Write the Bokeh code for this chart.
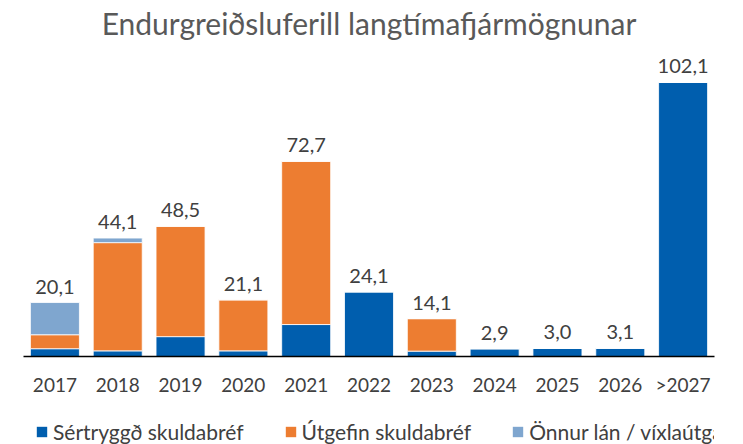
from bokeh.plotting import figure
from bokeh.layouts import column
from bokeh.models import ColumnDataSource, LabelSet, Legend, LegendItem, Range1d, FactorRange
from bokeh.core.properties import value
from bokeh.embed import file_html
from bokeh.resources import INLINE

years = ["2017", "2018", "2019", "2020", "2021", "2022", "2023", "2024", "2025", "2026", ">2027"]
sertryggd = [2.9, 2.1, 7.4, 2.1, 11.9, 24.1, 2.0, 2.9, 3.0, 3.1, 102.1]
utgefin = [5.2, 40.3, 41.1, 19.0, 60.8, 0.0, 12.1, 0.0, 0.0, 0.0, 0.0]
onnur = [12.0, 1.7, 0.0, 0.0, 0.0, 0.0, 0.0, 0.0, 0.0, 0.0, 0.0]
totals = [20.1, 44.1, 48.5, 21.1, 72.7, 24.1, 14.1, 2.9, 3.0, 3.1, 102.1]
series = ["Sértryggð skuldabréf", "Útgefin skuldabréf", "Önnur lán / víxlaútgáfa"]
colors = ["#005EAE", "#ED7D31", "#7FA6CF"]

FONT = "Lato"
src = ColumnDataSource(dict(
    years=years, s0=sertryggd, s1=utgefin, s2=onnur, total=totals,
    lab=[f"{t:.1f}".replace(".", ",") for t in totals],
))

p = figure(x_range=FactorRange(*years, range_padding=0.0), y_range=Range1d(0, 117.3),
           width=727, height=400, output_backend="svg", toolbar_location=None,
           min_border_left=23, min_border_right=13, min_border_top=41, min_border_bottom=44,
           title="Endurgreiðsluferill langtímafjármögnunar")
p.title.text_font = FONT
p.title.text_font_size = "30px"
p.title.text_font_style = "normal"
p.title.text_color = "#595959"
p.title.align = "center"
p.title.standoff = 2
p.title.offset = 0

p.outline_line_color = None
renderers = p.vbar_stack(["s0", "s1", "s2"], x="years", width=0.78, source=src,
                         color=colors, line_color="white", line_width=0.8)

labels = LabelSet(x="years", y="total", text="lab", source=src, y_offset=9,
                  text_align="center", text_baseline="bottom",
                  text_font=value(FONT), text_font_size="20px", text_color="#404040")
p.add_layout(labels)

p.yaxis.visible = False
p.xgrid.grid_line_color = None
p.ygrid.grid_line_color = None
p.xaxis.axis_line_color = "#000000"
p.xaxis.axis_line_width = 1.5
p.xaxis.major_tick_line_color = None
p.xaxis.minor_tick_line_color = None
p.xaxis.major_label_text_font = FONT
p.xaxis.major_label_text_font_size = "19px"
p.xaxis.major_label_text_color = "#404040"
p.xaxis.major_label_standoff = 10

# legend strip below the chart (its bars lie outside the visible y range)
lg = figure(width=727, height=44, output_backend="svg", toolbar_location=None,
            x_range=FactorRange(*years), y_range=Range1d(1000, 1001),
            x_axis_type=None, y_axis_type=None,
            min_border_left=0, min_border_right=0, min_border_top=0, min_border_bottom=0)
lg.grid.grid_line_color = None
lg.outline_line_color = None
leg_rs = lg.vbar_stack(["s0", "s1", "s2"], x="years", width=0.78, source=src,
                       color=colors, line_color=None)
legend = Legend(items=[LegendItem(label=series[i], renderers=[leg_rs[i]]) for i in range(3)],
                orientation="horizontal", location=(12, 0),
                label_text_font=FONT, label_text_font_size="21px", label_text_color="#404040",
                glyph_width=13, glyph_height=13, spacing=40, label_standoff=5,
                border_line_color=None, background_fill_alpha=0, padding=0, margin=0)
lg.add_layout(legend)

open("out.html", "w").write(file_html(column(p, lg, spacing=0), INLINE))
